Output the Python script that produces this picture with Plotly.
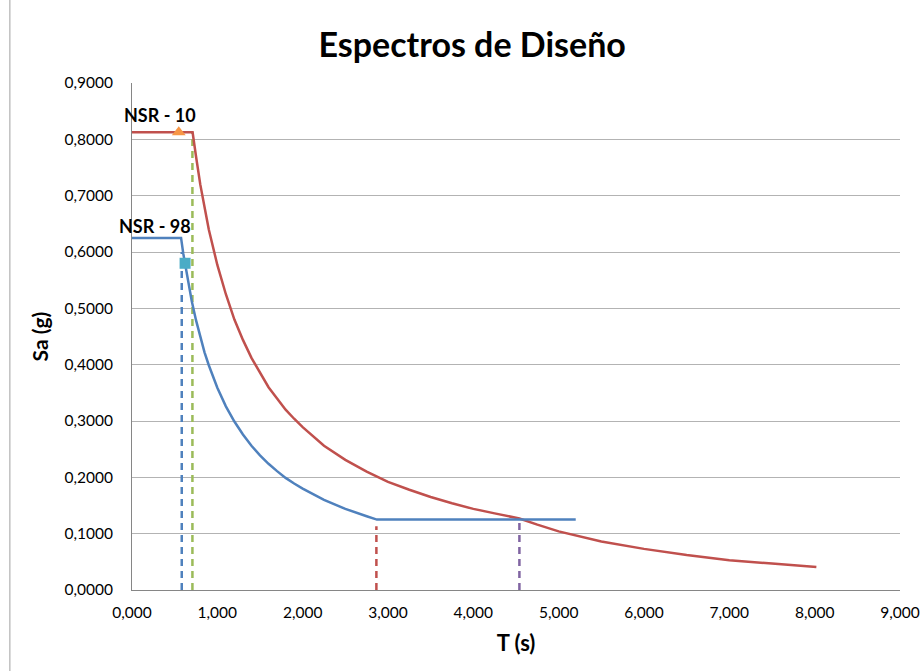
import plotly.graph_objects as go

# NSR-10 spectrum
t_nsr10 = [0.0, 0.71, 0.75, 0.8, 0.85, 0.9, 1.0, 1.1, 1.2, 1.3, 1.4, 1.5, 1.6, 1.7, 1.8, 1.9, 2.0,
           2.25, 2.5, 2.75, 3.0, 3.25, 3.5, 3.75, 4.0, 4.25, 4.54, 4.75, 5.0, 5.5, 6.0, 6.5, 7.0,
           7.5, 8.02]
sa_nsr10 = [0.8125, 0.8125, 0.77, 0.72, 0.68, 0.64, 0.577, 0.525, 0.48, 0.444, 0.412, 0.385,
            0.36, 0.34, 0.32, 0.304, 0.289, 0.256, 0.231, 0.21, 0.192, 0.178, 0.165, 0.154,
            0.144, 0.136, 0.127, 0.116, 0.104, 0.086, 0.073, 0.062, 0.053, 0.047, 0.041]

# NSR-98 spectrum
t_nsr98 = [0.0, 0.575, 0.6, 0.65, 0.7, 0.75, 0.8, 0.85, 0.9, 1.0, 1.1, 1.2, 1.3, 1.4, 1.5, 1.6,
           1.7, 1.8, 1.9, 2.0, 2.25, 2.5, 2.75, 2.87, 5.2]
sa_nsr98 = [0.625, 0.625, 0.598, 0.552, 0.513, 0.479, 0.449, 0.422, 0.399, 0.359, 0.326, 0.299,
            0.276, 0.256, 0.239, 0.224, 0.211, 0.199, 0.189, 0.18, 0.16, 0.144, 0.131, 0.125,
            0.125]

# Marker points
tri_t, tri_sa = [0.548], [0.8125]
sq_t, sq_sa = [0.622], [0.58]

# Dashed reference lines: (T, top Sa)
v_blue = ([0.583, 0.583], [0.0, 0.6])
v_green = ([0.708, 0.708], [0.0, 0.8125])
v_red = ([2.864, 2.864], [0.0, 0.113])
v_purple = ([4.54, 4.54], [0.0, 0.122])

x_ticks = [0, 1, 2, 3, 4, 5, 6, 7, 8, 9]
y_ticks = [0, 0.1, 0.2, 0.3, 0.4, 0.5, 0.6, 0.7, 0.8, 0.9]

FONT = "Lato"
fig = go.Figure()

dash = "7px,5px"
for (xs, ys), col in [(v_blue, "#4F81BD"), (v_green, "#9BBB59"),
                      (v_red, "#C0504D"), (v_purple, "#8064A2")]:
    fig.add_trace(go.Scatter(x=xs, y=ys, mode="lines",
                             line=dict(color=col, width=2.5, dash=dash),
                             hoverinfo="skip", showlegend=False))

fig.add_trace(go.Scatter(x=t_nsr10, y=sa_nsr10, mode="lines", name="NSR - 10",
                         line=dict(color="#C0504D", width=2.5), showlegend=False))
fig.add_trace(go.Scatter(x=t_nsr98, y=sa_nsr98, mode="lines", name="NSR - 98",
                         line=dict(color="#4F81BD", width=2.5), showlegend=False))
fig.add_trace(go.Scatter(x=tri_t, y=tri_sa, mode="markers",
                         marker=dict(symbol="triangle-up", size=12, color="#F79646"),
                         showlegend=False))
fig.add_trace(go.Scatter(x=sq_t, y=sq_sa, mode="markers",
                         marker=dict(symbol="square", size=11, color="#4BACC6"),
                         showlegend=False))

fig.add_annotation(x=0.33, y=0.843, text="<b>NSR - 10</b>", showarrow=False,
                   font=dict(family=FONT, size=18, color="black"))
fig.add_annotation(x=0.27, y=0.647, text="<b>NSR - 98</b>", showarrow=False,
                   font=dict(family=FONT, size=18, color="black"))

fig.update_layout(
    width=924, height=671,
    margin=dict(l=132, r=24, t=83, b=81),
    paper_bgcolor="white", plot_bgcolor="white",
    separators=",.",
    font=dict(family=FONT, size=15.5, color="black"),
    title=dict(text="<b>Espectros de Diseño</b>", x=0.511, xanchor="center",
               y=0.933, yanchor="middle", font=dict(family=FONT, size=34, color="black")),
    xaxis=dict(range=[0, 9], tickvals=x_ticks, tickformat=".3f", showgrid=False,
               showline=True, linecolor="#868686", linewidth=1, zeroline=False,
               ticks="", ticklabelstandoff=8, automargin=False,
               title=dict(text="<b>T (s)</b>", font=dict(family=FONT, size=22), standoff=16)),
    yaxis=dict(range=[0, 0.9], tickvals=y_ticks, tickformat=".4f", showgrid=True,
               gridcolor="#B3B3B3", gridwidth=1, showline=True, linecolor="#868686",
               linewidth=1, zeroline=False, ticks="", ticklabelstandoff=15, automargin=False,
               title=dict(text="<b>Sa (g)</b>", font=dict(family=FONT, size=21), standoff=10)),
)

fig.add_shape(type="line", xref="paper", yref="paper", x0=-0.159, x1=-0.159, y0=-0.2, y1=1.2,
              line=dict(color="#A0A0A0", width=1))

fig.write_html("out.html", config={"displayModeBar": False},
               post_script="document.body.style.margin='0px';document.body.style.overflow='hidden';")
